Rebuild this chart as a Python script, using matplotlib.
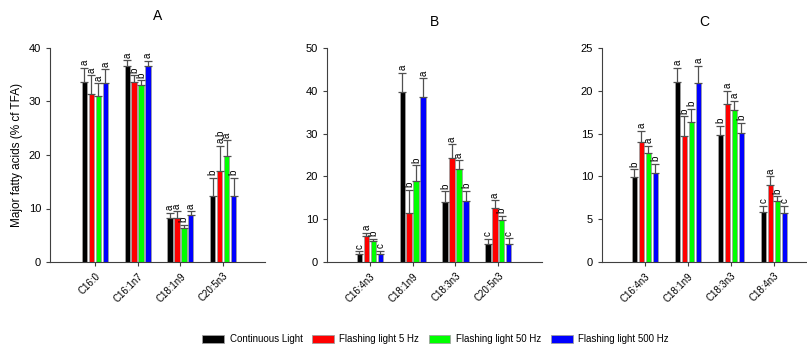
import matplotlib.pyplot as plt
import numpy as np

plt.rcParams['font.family'] = ['Liberation Sans', 'DejaVu Sans']

series = ["Continuous Light", "Flashing light 5 Hz", "Flashing light 50 Hz", "Flashing light 500 Hz"]
colors = ["#000000", "#ff0000", "#00ff00", "#0000ff"]

# panel A
cats_a = ["C16:0", "C16:1n7", "C18:1n9", "C20:5n3"]
vals_a = [[33.7, 36.7, 8.3, 12.3],
          [31.4, 33.6, 8.25, 17.1],
          [31.1, 33.1, 6.3, 19.8],
          [33.5, 36.6, 8.75, 12.3]]
errs_a = [[2.6, 1.0, 0.9, 3.45],
          [3.5, 1.3, 1.25, 4.6],
          [2.3, 0.9, 0.7, 2.95],
          [2.5, 1.0, 0.75, 3.45]]
lets_a = [["a", "a", "a", "b"],
          ["a", "b", "a", "a,b"],
          ["a", "b", "b", "a"],
          ["a", "a", "a", "b"]]

# panel B
cats_b = ["C16:4n3", "C18:1n9", "C18:3n3", "C20:5n3"]
vals_b = [[1.9, 39.8, 14.0, 4.1],
          [6.0, 11.35, 24.2, 12.7],
          [4.8, 18.9, 21.7, 9.7],
          [1.95, 38.65, 14.2, 4.2]]
errs_b = [[0.6, 4.4, 2.5, 1.3],
          [0.8, 5.55, 3.3, 1.7],
          [0.6, 3.7, 2.1, 1.1],
          [0.7, 4.3, 2.5, 1.3]]
lets_b = [["c", "a", "b", "c"],
          ["a", "b", "a", "a"],
          ["b", "b", "a", "b"],
          ["c", "a", "b", "c"]]

# panel C
cats_c = ["C16:4n3", "C18:1n9", "C18:3n3", "C18:4n3"]
vals_c = [[9.9, 21.0, 14.8, 5.85],
          [14.0, 14.7, 18.5, 9.05],
          [12.7, 16.35, 17.8, 7.1],
          [10.4, 20.9, 15.05, 5.75]]
errs_c = [[0.95, 1.7, 1.1, 0.7],
          [1.3, 2.3, 1.5, 0.95],
          [0.9, 1.55, 1.05, 0.6],
          [1.1, 2.0, 1.2, 0.8]]
lets_c = [["b", "a", "b", "c"],
          ["a", "b", "a", "a"],
          ["a", "b", "a", "b"],
          ["b", "a", "b", "c"]]

fig = plt.figure(figsize=(8.07, 3.46), dpi=100)

W, H = 807, 346
panels = [
    ("A", cats_a, vals_a, errs_a, lets_a, 40, 10, (50, 265), (-1.05, 3.98), 20),
    ("B", cats_b, vals_b, errs_b, lets_b, 50, 10, (327, 542), (-1.0, 4.02), 16),
    ("C", cats_c, vals_c, errs_c, lets_c, 25, 5, (602, 807), (-1.0, 3.77), 16),
]

pitch = 0.163
width = 0.125
handles = []
for title, cats, vals, errs, lets, ymax, ystep, (x0, x1), xlim, tpad in panels:
    ax = fig.add_axes([x0 / W, 1 - 262 / H, (x1 - x0) / W, (262 - 48) / H])
    x = np.arange(len(cats))
    for i in range(4):
        pos = x + (i - 1.5) * pitch
        b = ax.bar(pos, vals[i], width, color=colors[i], edgecolor="#a0a0a0",
                   linewidth=0.6, zorder=2)
        ax.errorbar(pos, vals[i], yerr=[np.zeros(len(cats)), errs[i]], fmt="none",
                    ecolor="#505050", elinewidth=0.9, capsize=2.6, capthick=0.9, zorder=3)
        for j in range(len(cats)):
            ax.text(pos[j], vals[i][j] + errs[i][j] + ymax * 0.012, lets[i][j],
                    rotation=90, ha="center", va="bottom", fontsize=7)
        if title == "A":
            handles.append(b)
    ax.set_xlim(*xlim)
    ax.set_ylim(0, ymax)
    ax.set_yticks(np.arange(0, ymax + 0.1, ystep))
    ax.set_xticks(x)
    ax.set_xticklabels(cats, rotation=45, ha="right", rotation_mode="anchor", fontsize=7)
    ax.tick_params(axis="y", labelsize=8, length=3, color="#404040", width=0.8)
    ax.tick_params(axis="x", length=3, color="#404040", width=0.8)
    for s in ["top", "right"]:
        ax.spines[s].set_visible(False)
    for s in ["left", "bottom"]:
        ax.spines[s].set_color("#404040")
        ax.spines[s].set_linewidth(0.8)
    ax.set_title(title, fontsize=10, pad=tpad)
    if title == "A":
        ax.set_ylabel("Major fatty acids (% cf TFA)", fontsize=8.5)

fig.legend(handles, series, loc="center", bbox_to_anchor=(0.54, 1 - 339 / H), ncol=4,
           frameon=False, fontsize=7, handlelength=2.2, handleheight=0.9,
           columnspacing=1.0, handletextpad=0.6)

fig.savefig("out.png", dpi=100)
